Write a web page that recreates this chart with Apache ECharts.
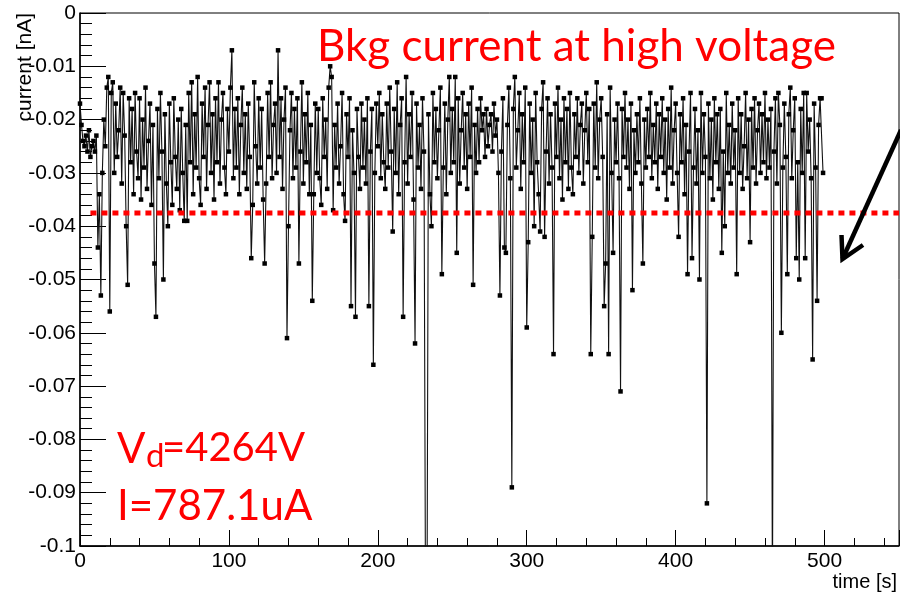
<!DOCTYPE html>
<html><head><meta charset="utf-8">
<script src="https://cdn.jsdelivr.net/npm/echarts@6/dist/echarts.min.js"></script>
<style>html,body{margin:0;padding:0;background:#fff}#c{width:900px;height:594px}</style>
</head><body><div id="c"></div>
<script>
// sampling: one reading per second starting at t = 0 s
const sampleStart = 0;
const sampleStep = 1;
// measured current, in pA (1e-3 nA), one value per sample
const currentPA = [
 -17,-21,-24,-25,-23,-26,-22,-27,-25,-24,
 -26,-23,-44,-34,-53,-30,-20,-25,-14,-12,
 -56,-15,-13,-30,-17,-27,-22,-14,-32,-15,
 -23,-40,-51,-16,-28,-18,-34,-15,-26,-31,
 -16,-35,-20,-29,-14,-33,-24,-17,-36,-21,
 -47,-57,-18,-31,-15,-26,-50,-19,-32,-40,
 -17,-28,-36,-16,-27,-33,-20,-37,-18,-30,
 -39,-21,-39,-15,-28,-13,-34,-19,-29,-12,
 -31,-36,-17,-27,-14,-33,-21,-13,-30,-19,
 -35,-16,-28,-13,-32,-20,-15,-29,-34,-18,
 -26,-14,-7,-31,-18,-29,-16,-34,-21,-14,
 -30,-19,-33,-17,-27,-46,-36,-13,-25,-32,
 -16,-29,-18,-35,-47,-32,-15,-27,-13,-31,
 -21,-17,-30,-7,-27,-16,-33,-20,-14,-61,
 -40,-22,-15,-31,-18,-29,-16,-47,-26,-13,
 -32,-19,-28,-15,-34,-21,-54,-34,-17,-30,
 -18,-31,-36,-16,-27,-20,-33,-14,-10,-12,
 -37,-21,-29,-17,-32,-25,-15,-34,-39,-19,
 -27,-16,-55,-22,-30,-57,-18,-27,-33,-17,
 -29,-20,-32,-16,-55,-26,-18,-66,-30,-17,
 -25,-15,-31,-19,-28,-33,-17,-29,-14,-26,
 -41,-18,-30,-13,-34,-21,-16,-57,-28,-12,
 -32,-19,-27,-15,-35,-62,-17,-29,-21,-33,
 -16,-26,-108,-115,-19,-34,-40,-15,-28,-18,
 -31,-22,-14,-49,-29,-17,-34,-20,-12,-30,
 -18,-28,-12,-45,-16,-32,-22,-15,-29,-19,
 -33,-17,-27,-14,-51,-21,-30,-18,-28,-16,
 -22,-19,-27,-18,-25,-21,-19,-26,-17,-23,
 -20,-30,-53,-26,-16,-44,-45,-21,-14,-31,
 -89,-18,-12,-29,-22,-15,-33,-19,-28,-14,
 -59,-43,-17,-30,-20,-40,-15,-28,-34,-41,
 -18,-13,-42,-26,-16,-32,-19,-29,-64,-17,
 -27,-14,-31,-20,-35,-16,-28,-18,-33,-15,
 -29,-34,-19,-27,-16,-30,-21,-17,-32,-22,
 -15,-28,-18,-64,-42,-17,-29,-13,-31,-20,
 -16,-27,-55,-47,-19,-64,-14,-30,-45,-20,
 -28,-17,-31,-71,-18,-27,-15,-29,-20,-33,
 -17,-52,-22,-30,-19,-28,-16,-32,-47,-20,
 -29,-18,-27,-15,-31,-21,-28,-17,-33,-19,
 -27,-16,-30,-20,-35,-18,-29,-14,-32,-22,
 -17,-30,-42,-19,-28,-16,-34,-21,-49,-26,
 -15,-46,-29,-18,-32,-22,-50,-15,-30,-19,
 -27,-92,-17,-31,-20,-35,-16,-28,-19,-33,
 -18,-45,-26,-40,-15,-30,-21,-32,-17,-29,
 -22,-49,-16,-30,-19,-33,-25,-15,-31,-20,
 -43,-18,-29,-16,-32,-22,-17,-30,-19,-28,
 -15,-31,-20,-29,-18,-110,-26,-16,-32,-15,
 -21,-60,-29,-17,-27,-49,-19,-14,-31,-22,
 -16,-46,-28,-50,-18,-30,-15,-46,-15,-26,
 -20,-31,-65,-17,-29,-54,-21,-16,-16,-30
];
// dotted reference level (nA) and where it starts (s)
const refLevel = -0.0375;
const refStart = 7;
const refEnd = 550;
// axis ranges
const xRange = [0, 550];
const yRange = [-0.1, 0];

const AX = 'Liberation Sans, Arial, sans-serif';
const pts = currentPA.map((v, i) => [sampleStart + i * sampleStep, v / 1000]);

const chart = echarts.init(document.getElementById('c'), null, {renderer: 'canvas'});
chart.setOption({
  animation: false,
  backgroundColor: '#ffffff',
  grid: {left: 80, right: 1, top: 13, bottom: 48, show: true, borderColor: '#000', borderWidth: 1, backgroundColor: 'transparent'},
  xAxis: {
    type: 'value', min: xRange[0], max: xRange[1], interval: 100,
    axisLine: {show: true, onZero: false, lineStyle: {color: '#000', width: 1.5}},
    axisTick: {show: true, inside: true, length: 16, lineStyle: {color: '#000', width: 1}},
    minorTick: {show: true, splitNumber: 5, length: 8, lineStyle: {color: '#000', width: 1}},
    splitLine: {show: false},
    axisLabel: {color: '#000', fontFamily: AX, fontSize: 21, margin: 5, showMaxLabel: false}
  },
  yAxis: {
    type: 'value', min: yRange[0], max: yRange[1], interval: 0.01,
    axisLine: {show: true, onZero: false, lineStyle: {color: '#000', width: 1.5}},
    axisTick: {show: true, inside: true, length: 26, lineStyle: {color: '#000', width: 1}},
    minorTick: {show: true, splitNumber: 5, length: 12, lineStyle: {color: '#000', width: 1}},
    splitLine: {show: false},
    axisLabel: {color: '#000', fontFamily: AX, fontSize: 21, margin: 4,
      formatter: v => (Math.abs(v) < 1e-9 ? '0' : String(+v.toFixed(2)))}
  },
  series: [
    {
      type: 'line', data: pts, clip: true,
      symbol: 'rect', symbolSize: 4.5, showAllSymbol: true,
      lineStyle: {color: '#111', width: 1.1},
      itemStyle: {color: '#000'},
      z: 2
    },
    {
      type: 'line', data: [[refStart, refLevel], [refEnd, refLevel]], clip: true,
      symbol: 'none',
      lineStyle: {color: '#ff0000', width: 5, type: [6, 5]},
      z: 3
    }
  ],
  graphic: [
    {type: 'text', x: 25, y: 13, rotation: Math.PI / 2,
     style: {text: 'current [nA]', fill: '#000', font: '21px ' + AX, align: 'right', verticalAlign: 'middle'}},
    {type: 'text', x: 897, y: 582,
     style: {text: 'time [s]', fill: '#000', font: '20px ' + AX, align: 'right', verticalAlign: 'middle'}},
    {type: 'text', x: 317, y: 47,
     style: {text: 'Bkg current at high voltage', fill: '#ff0000', font: '44px Lato', align: 'left', verticalAlign: 'middle'}},
    {type: 'text', x: 117, y: 428,
     style: {text: 'V', fill: '#ff0000', font: '42px Lato', align: 'left', verticalAlign: 'alphabetic'}},
    {type: 'text', x: 146, y: 440,
     style: {text: 'd', fill: '#ff0000', font: '33px Lato', align: 'left', verticalAlign: 'alphabetic'}},
    {type: 'text', x: 162, y: 428,
     style: {text: '=4264V', fill: '#ff0000', font: '40px Lato', align: 'left', verticalAlign: 'alphabetic'}},
    {type: 'text', x: 117, y: 485,
     style: {text: 'I=787.1uA', fill: '#ff0000', font: '42px Lato', align: 'left', verticalAlign: 'alphabetic'}},
    {type: 'polyline', shape: {points: [[901, 130], [842.5, 259]]},
     style: {stroke: '#000', lineWidth: 4.5, fill: null}, z: 10},
    {type: 'polyline', shape: {points: [[841.5, 235], [842.5, 259], [863, 245]]},
     style: {stroke: '#000', lineWidth: 4.5, fill: null, lineJoin: 'miter'}, z: 10}
  ]
});
</script></body></html>
